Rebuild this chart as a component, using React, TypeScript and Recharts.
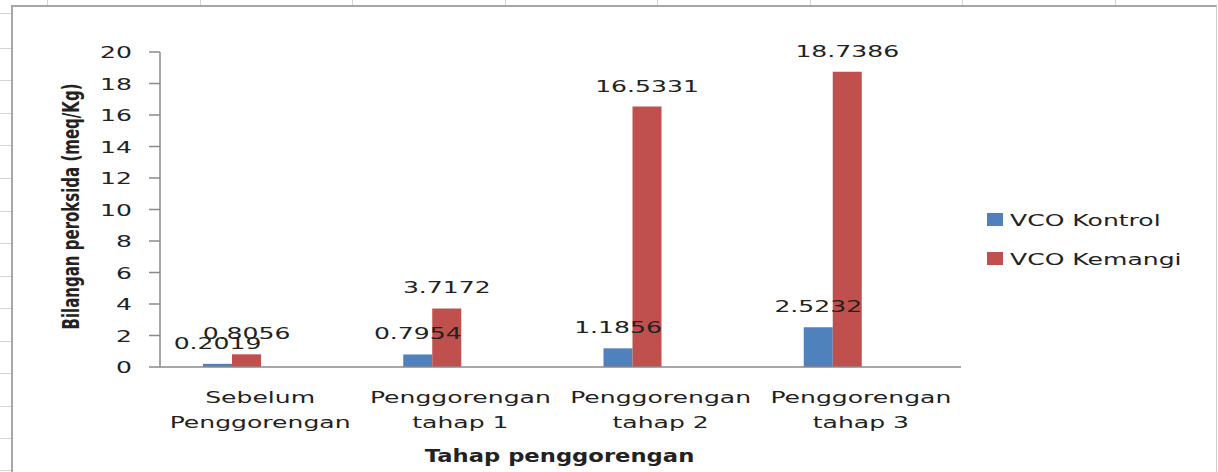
import React from 'react';
import { BarChart, Bar, XAxis, YAxis, Legend, LabelList, Label } from 'recharts';

// ---- data ----
const categories = [
  'Sebelum\nPenggorengan',
  'Penggorengan\ntahap 1',
  'Penggorengan\ntahap 2',
  'Penggorengan\ntahap 3',
];
const vcoKontrol = [0.2019, 0.7954, 1.1856, 2.5232];
const vcoKemangi = [0.8056, 3.7172, 16.5331, 18.7386];
const yTicks = [0, 2, 4, 6, 8, 10, 12, 14, 16, 18, 20];
const seriesNames = ['VCO Kontrol', 'VCO Kemangi'];
const seriesColors = ['#4F81BD', '#C0504D'];
const xTitle = 'Tahap penggorengan';
const yTitle = 'Bilangan peroksida (meq/Kg)';

const data = categories.map((c, i) => ({
  category: c,
  kontrol: vcoKontrol[i],
  kemangi: vcoKemangi[i],
}));

// ---- styling helpers ----
const FONT = "'DejaVu Sans', Verdana, sans-serif";
const SX = 1.52;
const FS = 16.5;
const TXT = '#222222';
const AXIS = '#8a8a8a';

function SText(props: any) {
  const { x, y, anchor = 'middle', children, size = FS, sx = SX, weight = 'normal', rotate = 0 } = props;
  return (
    <text
      transform={`translate(${x},${y}) scale(${sx},1)${rotate ? ` rotate(${rotate})` : ''}`}
      textAnchor={anchor}
      fontFamily={FONT}
      fontSize={size}
      fontWeight={weight}
      fill={TXT}
    >
      {children}
    </text>
  );
}

const XTick = (props: any) => {
  const { x, y, payload } = props;
  const lines = String(payload.value).split('\n');
  return (
    <g>
      {lines.map((ln, i) => (
        <SText key={i} x={x} y={y + 36 + i * 25}>
          {ln}
        </SText>
      ))}
    </g>
  );
};

const YTick = (props: any) => {
  const { x, y, payload } = props;
  return (
    <SText x={x - 17} y={y + 6} anchor="end">
      {payload.value}
    </SText>
  );
};

const ValueLabel = (props: any) => {
  const { x, y, width, value } = props;
  if (value === undefined || value === null) return null;
  return (
    <SText x={Number(x) + Number(width) / 2} y={Number(y) - 15}>
      {Number(value).toFixed(4)}
    </SText>
  );
};

const LegendContent = () => (
  <svg width={230} height={70} style={{ display: 'block' }}>
    {seriesNames.map((n, i) => (
      <g key={n}>
        <rect x={2} y={8 + i * 39} width={16} height={13} fill={seriesColors[i]} />
        <SText x={25} y={21 + i * 39} anchor="start">
          {n}
        </SText>
      </g>
    ))}
  </svg>
);

// ---- spreadsheet background ----
const colLines = [47, 200, 352, 505, 657, 810, 962, 1115];
const rowLines = [13, 48, 80, 113, 145, 178, 211, 243, 276, 308, 341, 373, 406, 438, 470];

export default function App() {
  return (
    <div style={{ position: 'absolute', left: 0, top: 0, width: 1218, height: 472, overflow: 'hidden', background: '#ffffff' }}>
      {colLines.map((cx) => (
        <div key={'c' + cx} style={{ position: 'absolute', left: cx, top: 0, width: 1, height: 6, background: '#d4d4d4' }} />
      ))}
      {rowLines.map((ry) => (
        <div key={'r' + ry} style={{ position: 'absolute', left: 0, top: ry, width: 11, height: 1, background: '#d4d4d4' }} />
      ))}
      <div
        style={{
          position: 'absolute',
          left: 11,
          top: 5,
          width: 1203,
          height: 500,
          background: '#ffffff',
          borderTop: '2px solid #a6a6a6',
          borderLeft: '2px solid #a6a6a6',
          borderRight: '1px solid #d0d0d0',
        }}
      />
      <div style={{ position: 'absolute', left: 0, top: 0 }}>
        <BarChart
          width={1218}
          height={472}
          data={data}
          margin={{ top: 52, right: 27, bottom: 25, left: 0 }}
          barCategoryGap={43}
          barGap={0}
        >
          <XAxis
            dataKey="category"
            height={80}
            tickLine={false}
            tickSize={0}
            tickMargin={0}
            axisLine={{ stroke: AXIS, strokeWidth: 1.5 }}
            tick={<XTick />}
            interval={0}
          >
            <Label
              content={(p: any) => {
                const vb = p.viewBox || { x: 160, y: 367, width: 801 };
                return (
                  <SText x={vb.x + vb.width / 2 - 1} y={vb.y + 95} size={18} sx={1.26} weight="bold">
                    {xTitle}
                  </SText>
                );
              }}
            />
          </XAxis>
          <YAxis
            width={160}
            domain={[0, 20]}
            ticks={yTicks}
            interval={0}
            tickSize={11}
            tickMargin={0}
            tickLine={{ stroke: AXIS, strokeWidth: 1.5 }}
            axisLine={{ stroke: AXIS, strokeWidth: 1.5 }}
            tick={<YTick />}
          >
            <Label
              content={(p: any) => {
                const vb = p.viewBox || { x: 0, y: 52, width: 160, height: 315 };
                return (
                  <SText x={79} y={vb.y + vb.height / 2 - 3} size={15} sx={1.5} weight="bold" rotate={-90}>
                    {yTitle}
                  </SText>
                );
              }}
            />
          </YAxis>
          <Legend
            layout="vertical"
            align="right"
            verticalAlign="middle"
            content={<LegendContent />}
            wrapperStyle={{ left: 985, top: 205, width: 230 }}
          />
          <Bar dataKey="kontrol" name={seriesNames[0]} fill={seriesColors[0]} isAnimationActive={false}>
            <LabelList dataKey="kontrol" content={<ValueLabel />} />
          </Bar>
          <Bar dataKey="kemangi" name={seriesNames[1]} fill={seriesColors[1]} isAnimationActive={false}>
            <LabelList dataKey="kemangi" content={<ValueLabel />} />
          </Bar>
          <Bar dataKey="pad1" legendType="none" fill="transparent" isAnimationActive={false} />
          <Bar dataKey="pad2" legendType="none" fill="transparent" isAnimationActive={false} />
        </BarChart>
      </div>
    </div>
  );
}
